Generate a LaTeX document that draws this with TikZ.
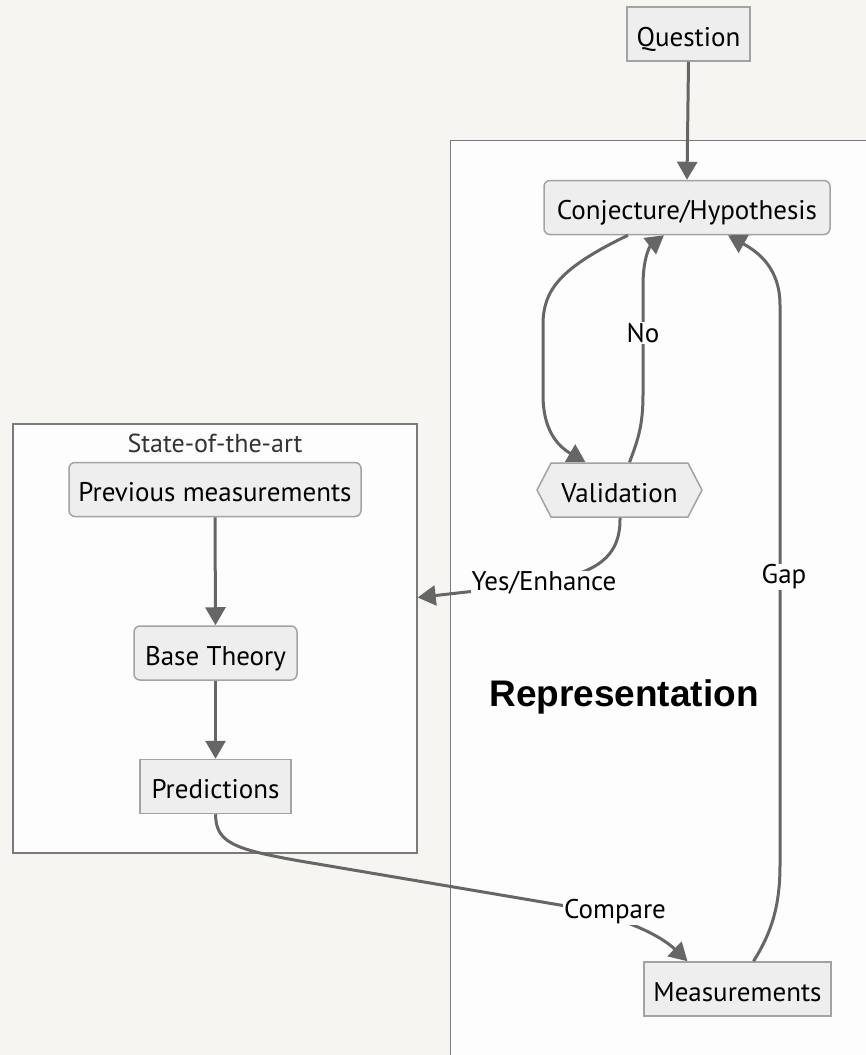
\documentclass[tikz,border=0pt]{standalone}
\usepackage{fontspec}
\setmainfont{PT Sans}
\newfontfamily\headfont{Liberation Sans}
\usetikzlibrary{arrows.meta,shapes.symbols}

\definecolor{paper}{HTML}{F6F5F2}
\definecolor{boxfill}{HTML}{EEEEEE}
\definecolor{boxline}{HTML}{A3A3A3}
\definecolor{flowcol}{HTML}{666666}
\definecolor{clusterfill}{HTML}{FDFDFD}
\definecolor{clusterline}{HTML}{7A7A7A}

\tikzset{
  box/.style={draw=boxline, fill=boxfill, line width=1.5pt, inner sep=0pt,
    minimum height=54pt, text height=24pt, text depth=0pt, font=\fontsize{27}{31}\selectfont},
  roundbox/.style={box, rounded corners=6pt},
  cluster/.style={draw=clusterline, fill=clusterfill, line width=1.4pt, inner sep=0pt},
  flow/.style={draw=flowcol, line width=3pt, -{Triangle[length=18pt,width=20pt]}},
  lbl/.style={fill=clusterfill, inner sep=1pt, font=\fontsize{27}{31}\selectfont},
}

\begin{document}
\begin{tikzpicture}[x=1pt, y=-1pt]
			%%%%% START %%%%%
			
			\fill[paper] (0, 0) rectangle (866, 1055);
			\useasboundingbox (0, 0) rectangle (866, 1055);
			\clip (0, 0) rectangle (866, 1055);
			
			% clusters
			\node[cluster, anchor=north west, minimum width=440pt, minimum height=940pt] (rep) at (450, 140) {};
			\node[font=\headfont\bfseries\fontsize{37}{41}\selectfont] (reptitle) at (624, 697) {Representation};
			
			\node[cluster, minimum width=404pt, minimum height=429pt] (sota) at (215, 638.5) {};
			\node[text=black!80, font=\fontsize{26}{30}\selectfont] (sotatitle) at (215, 443) {State-of-the-art};
			
			% nodes
			\node[box, minimum width=123pt] (question) at (688.5, 34) {Question};
			\node[roundbox, minimum width=286pt] (conj) at (687, 207.5) {Conjecture/Hypothesis};
			\node[box, signal, signal to=east and west, signal pointer angle=125, minimum width=165pt] (valid) at (619.5, 490) {Validation};
			\node[roundbox, minimum width=292pt] (prev) at (215, 489.5) {Previous measurements};
			\node[roundbox, minimum width=163pt] (base) at (215.5, 653) {Base Theory};
			\node[box, minimum width=151pt] (pred) at (215.5, 786.5) {Predictions};
			\node[box, minimum width=187pt] (meas) at (737.5, 989) {Measurements};
			
			% edges
			\draw[flow] (question.south) -- (conj.north);
			\draw[flow] (prev.south) -- (base.north);
			\draw[flow] (base.south) -- (pred.north);
			
			\draw[flow] ([xshift=-59pt]conj.south) .. controls (560, 268) and (543, 290) .. (543, 325)
				-- (543, 395) .. controls (543, 428) and (556, 445) .. ([xshift=-34pt]valid.north);
			\draw[flow] ([xshift=10pt]valid.north) .. controls (638, 440) and (643, 425) .. (643, 395)
				-- (643, 285) .. controls (643, 258) and (650, 246) .. ([xshift=-23pt]conj.south);
			\draw[flow] ([xshift=16pt]meas.north) .. controls (772, 932) and (780, 905) .. (780, 865)
				-- (780, 305) .. controls (780, 268) and (758, 252) .. ([xshift=41pt]conj.south);
			\draw[flow] ([xshift=0.5pt]valid.south) .. controls (621, 565) and (585, 577) .. (520, 586)
				-- ([yshift=41pt]sota.east);
			\draw[flow] (pred.south) .. controls (216, 842) and (232, 849) .. (300, 861)
				-- (560, 905) .. controls (622, 916) and (660, 935) .. ([xshift=-50pt]meas.north);
			
			% edge labels
			\node[lbl] (lno) at (643, 333) {No};
			\node[lbl] (lgap) at (784, 577) {Gap};
			\node[lbl] (lyes) at (544, 583) {Yes/Enhance};
			\node[lbl] (lcmp) at (615, 912) {Compare};
			
			%%%%% END %%%%%
\end{tikzpicture}
\end{document}
